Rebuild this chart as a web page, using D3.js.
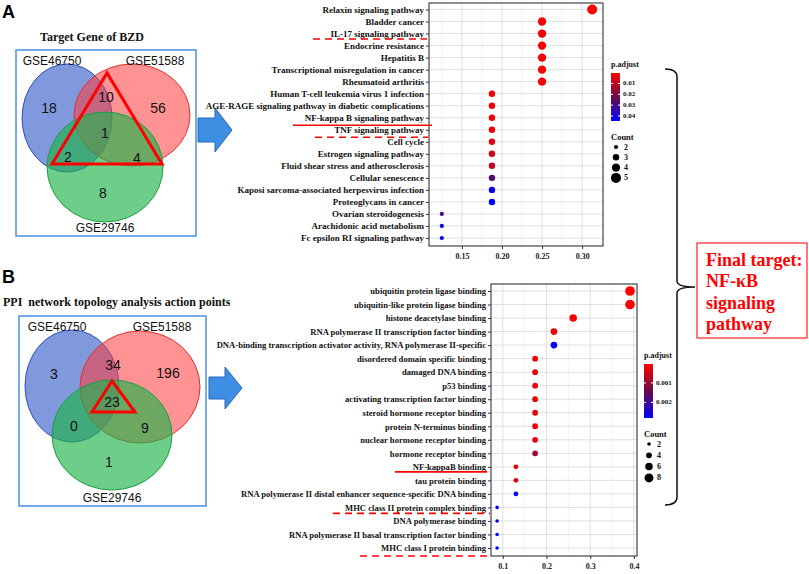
<!DOCTYPE html>
<html>
<head>
<meta charset="utf-8">
<script src="https://cdn.jsdelivr.net/npm/d3@7"></script>
<style>
  body { margin: 0; background: #fff; }
  svg { display: block; }
  .serif { font-family: "Liberation Serif", "Times New Roman", serif; font-weight: bold; white-space: pre; }
  .sans { font-family: "Liberation Sans", Arial, sans-serif; }
</style>
</head>
<body>
<script>
// ---- panel A : KEGG enrichment of BZD target genes ----
var pathA = ["Relaxin signaling pathway", "Bladder cancer", "IL-17 signaling pathway", "Endocrine resistance",
  "Hepatitis B", "Transcriptional misregulation in cancer", "Rheumatoid arthritis",
  "Human T-cell leukemia virus 1 infection", "AGE-RAGE signaling pathway in diabetic complications",
  "NF-kappa B signaling pathway", "TNF signaling pathway", "Cell cycle", "Estrogen signaling pathway",
  "Fluid shear stress and atherosclerosis", "Cellular senescence", "Kaposi sarcoma-associated herpesvirus infection",
  "Proteoglycans in cancer", "Ovarian steroidogenesis", "Arachidonic acid metabolism", "Fc epsilon RI signaling pathway"];
var ratioA = [0.3125, 0.25, 0.25, 0.25, 0.25, 0.25, 0.25, 0.1875, 0.1875, 0.1875, 0.1875, 0.1875, 0.1875,
  0.1875, 0.1875, 0.1875, 0.1875, 0.125, 0.125, 0.125];
var countA = [5, 4, 4, 4, 4, 4, 4, 3, 3, 3, 3, 3, 3, 3, 3, 3, 3, 2, 2, 2];
var padjA = [0.0003, 0.002, 0.002, 0.002, 0.002, 0.002, 0.002, 0.003, 0.003, 0.003, 0.004, 0.006, 0.009,
  0.010, 0.027, 0.042, 0.0447, 0.030, 0.043, 0.0447];
var xTicksA = [0.15, 0.20, 0.25, 0.30];
var padjTicksA = [0.01, 0.02, 0.03, 0.04];
var countTicksA = [2, 3, 4, 5];

// ---- panel B : GO molecular function of PPI action points ----
var termB = ["ubiquitin protein ligase binding", "ubiquitin-like protein ligase binding", "histone deacetylase binding",
  "RNA polymerase II transcription factor binding",
  "DNA-binding transcription activator activity, RNA polymerase II-specific",
  "disordered domain specific binding", "damaged DNA binding", "p53 binding", "activating transcription factor binding",
  "steroid hormone receptor binding", "protein N-terminus binding", "nuclear hormone receptor binding",
  "hormone receptor binding", "NF-kappaB binding", "tau protein binding",
  "RNA polymerase II distal enhancer sequence-specific DNA binding", "MHC class II protein complex binding",
  "DNA polymerase binding", "RNA polymerase II basal transcription factor binding", "MHC class I protein binding"];
var ratioB = [0.391, 0.391, 0.261, 0.217, 0.217, 0.174, 0.174, 0.174, 0.174, 0.174, 0.174, 0.174, 0.174,
  0.130, 0.130, 0.130, 0.087, 0.087, 0.087, 0.087];
var countB = [9, 9, 6, 5, 5, 4, 4, 4, 4, 4, 4, 4, 4, 3, 3, 3, 2, 2, 2, 2];
var padjB = [0.00003, 0.0001, 0.0001, 0.0002, 0.0027, 0.0002, 0.0002, 0.0002, 0.0002, 0.0002, 0.0002, 0.0002,
  0.0009, 0.0003, 0.0003, 0.0026, 0.0028, 0.0028, 0.0028, 0.0028];
var xTicksB = [0.1, 0.2, 0.3, 0.4];
var padjTicksB = [0.001, 0.002];
var countTicksB = [2, 4, 6, 8];

// ---- Venn counts ----
var vennNames = ["GSE46750", "GSE51588", "GSE29746"];
var vennA = [18, 10, 56, 1, 2, 4, 8];   // blue only, blue&red, red only, all, blue&green, red&green, green only
var vennB = [3, 34, 196, 23, 0, 9, 1];

var W = 809, H = 574;
var svg = d3.select("body").append("svg").attr("width", W).attr("height", H);
var defs = svg.append("defs");
var colStops = ["#ff0000", "#6a0c48", "#0000ff"];

// ---------- helpers ----------
function venn(g, box, ells, labelPos, numPos, tri, counts, title, titleX, titleY, titleAnchor) {
  g.append("rect").attr("x", box[0]).attr("y", box[1]).attr("width", box[2]).attr("height", box[3])
    .attr("fill", "none").attr("stroke", "#4a90e2").attr("stroke-width", 1.5);
  var fills = ["#2c54c4", "#ff3b3b", "#1fb34a"], strokes = ["#2f4fc0", "#e03030", "#18a040"], ops = [0.6, 0.55, 0.65];
  ells.forEach(function(e, i) {
    g.append("ellipse").attr("cx", e[0]).attr("cy", e[1]).attr("rx", e[2]).attr("ry", e[3])
      .attr("fill", fills[i]).attr("fill-opacity", ops[i]).attr("stroke", strokes[i]).attr("stroke-width", 1);
  });
  labelPos.forEach(function(p, i) {
    g.append("text").attr("class", "sans").attr("x", p[0]).attr("y", p[1]).attr("text-anchor", "middle")
      .attr("dominant-baseline", "central").attr("font-size", 12).attr("fill", "#111").text(vennNames[i]);
  });
  numPos.forEach(function(p, i) {
    g.append("text").attr("class", "sans").attr("x", p[0]).attr("y", p[1]).attr("text-anchor", "middle")
      .attr("dominant-baseline", "central").attr("font-size", 14).attr("fill", "#111").text(counts[i]);
  });
  g.append("path").attr("d", d3.line()(tri) + "Z").attr("fill", "none").attr("stroke", "#ff0000")
    .attr("stroke-width", 3).attr("stroke-linejoin", "miter");
  g.append("text").attr("class", "serif").attr("x", titleX).attr("y", titleY).attr("text-anchor", titleAnchor)
    .attr("dominant-baseline", "central").attr("font-size", 12).attr("fill", "#111").text(title);
}

function arrow(g, x0, x1, x2, yc, hr, hh) {
  var pts = [[x0, yc - hr], [x1, yc - hr], [x1, yc - hh], [x2, yc], [x1, yc + hh], [x1, yc + hr], [x0, yc + hr]];
  g.append("path").attr("d", d3.line()(pts) + "Z").attr("fill", "#3d8fe3").attr("stroke", "#2766b5").attr("stroke-width", 1);
}

function dotplot(cfg) {
  var g = svg.append("g");
  var x = d3.scaleLinear().domain(cfg.xdom).range([cfg.left, cfg.right]);
  var y = d3.scalePoint().domain(cfg.cats).range([cfg.y0, cfg.y1]);
  var r = d3.scaleSqrt().domain(cfg.cdom).range(cfg.rrange);
  var pmid = (cfg.pdom[0] + cfg.pdom[1]) / 2;
  var col = d3.scaleLinear().domain([cfg.pdom[0], pmid, cfg.pdom[1]]).range(colStops).interpolate(d3.interpolateRgb);

  g.append("rect").attr("x", cfg.left).attr("y", cfg.top).attr("width", cfg.right - cfg.left)
    .attr("height", cfg.bottom - cfg.top).attr("fill", "#fff");
  // minor + major grid
  cfg.minor.forEach(function(v) {
    g.append("line").attr("x1", x(v)).attr("x2", x(v)).attr("y1", cfg.top).attr("y2", cfg.bottom)
      .attr("stroke", "#ececec").attr("stroke-width", 0.6);
  });
  cfg.xticks.forEach(function(v) {
    g.append("line").attr("x1", x(v)).attr("x2", x(v)).attr("y1", cfg.top).attr("y2", cfg.bottom)
      .attr("stroke", "#dcdcdc").attr("stroke-width", 0.9);
  });
  cfg.cats.forEach(function(c) {
    g.append("line").attr("x1", cfg.left).attr("x2", cfg.right).attr("y1", y(c)).attr("y2", y(c))
      .attr("stroke", "#dcdcdc").attr("stroke-width", 0.9);
  });
  g.append("rect").attr("x", cfg.left).attr("y", cfg.top).attr("width", cfg.right - cfg.left)
    .attr("height", cfg.bottom - cfg.top).attr("fill", "none").attr("stroke", "#333").attr("stroke-width", 1.1);

  // axes
  var ax = g.append("g").attr("transform", "translate(0," + cfg.bottom + ")")
    .call(d3.axisBottom(x).tickValues(cfg.xticks).tickSize(3).tickFormat(d3.format(cfg.xfmt)));
  ax.select(".domain").remove();
  ax.selectAll("line").attr("stroke", "#333");
  ax.selectAll("text").attr("class", "serif").attr("font-size", 8).attr("fill", "#222").attr("dy", "0.9em");
  var ay = g.append("g").attr("transform", "translate(" + cfg.left + ",0)")
    .call(d3.axisLeft(y).tickSize(3).tickPadding(2));
  ay.select(".domain").remove();
  ay.selectAll("line").attr("stroke", "#333");
  ay.selectAll("text").attr("class", "serif").attr("font-size", cfg.fs).attr("fill", "#111");

  // dots
  g.selectAll("circle.dot").data(cfg.cats).enter().append("circle").attr("class", "dot")
    .attr("cx", function(d, i) { return x(cfg.ratio[i]); })
    .attr("cy", function(d) { return y(d); })
    .attr("r", function(d, i) { return r(cfg.count[i]); })
    .attr("fill", function(d, i) { return col(cfg.padj[i]); });

  // annotation underlines
  cfg.marks.forEach(function(m) {
    var yy = y(cfg.cats[m.i]) + m.dy;
    g.append("line").attr("x1", m.x1).attr("x2", m.x2).attr("y1", yy).attr("y2", yy)
      .attr("stroke", "#ff0000").attr("stroke-width", 1.6)
      .attr("stroke-dasharray", m.dash ? "7,5" : null);
  });

  // colour legend
  var L = cfg.leg;
  var gid = "grad" + cfg.id;
  var grad = defs.append("linearGradient").attr("id", gid)
    .attr("x1", 0).attr("x2", 0).attr("y1", 0).attr("y2", 1);
  colStops.forEach(function(c, i) {
    grad.append("stop").attr("offset", (i * 50) + "%").attr("stop-color", c);
  });
  g.append("text").attr("class", "serif").attr("x", L.x).attr("y", L.y0 - 6).attr("font-size", 8)
    .attr("fill", "#111").text("p.adjust");
  g.append("rect").attr("x", L.x).attr("y", L.y0).attr("width", 9).attr("height", L.y1 - L.y0)
    .attr("fill", "url(#" + gid + ")");
  var ly = d3.scaleLinear().domain(cfg.pdom).range([L.y0, L.y1]);
  cfg.pticks.forEach(function(v) {
    g.append("line").attr("x1", L.x).attr("x2", L.x + 2).attr("y1", ly(v)).attr("y2", ly(v)).attr("stroke", "#fff");
    g.append("line").attr("x1", L.x + 7).attr("x2", L.x + 9).attr("y1", ly(v)).attr("y2", ly(v)).attr("stroke", "#fff");
    g.append("text").attr("class", "serif").attr("x", L.x + 12).attr("y", ly(v)).attr("dominant-baseline", "central")
      .attr("font-size", 7).attr("fill", "#111").text(v);
  });
  // size legend
  g.append("text").attr("class", "serif").attr("x", L.x).attr("y", L.cy).attr("dominant-baseline", "central")
    .attr("font-size", 8.5).attr("fill", "#111").text("Count");
  cfg.cticks.forEach(function(v, i) {
    var yy = L.cy + 10 + i * L.cs;
    g.append("circle").attr("cx", L.x + 5).attr("cy", yy).attr("r", r(v)).attr("fill", "#000");
    g.append("text").attr("class", "serif").attr("x", L.x + 13).attr("y", yy).attr("dominant-baseline", "central")
      .attr("font-size", 8).attr("fill", "#111").text(v);
  });
}

// ---------- panel A ----------
svg.append("text").attr("class", "sans").attr("x", 2).attr("y", 18).attr("font-size", 18)
  .attr("font-weight", "bold").attr("fill", "#000").text("A");
venn(svg.append("g"), [16, 50, 180, 186],
  [[67, 118, 45, 54], [132, 115, 58, 51], [105, 167, 58, 55]],
  [[52, 61], [155, 61], [105, 228]],
  [[49, 108], [106, 97], [158, 108], [105, 133], [68, 157], [137, 158], [103, 193]],
  [[107, 73], [52, 164], [162, 164]], vennA, "Target Gene of BZD", 92, 37, "middle");
arrow(svg, 198, 215, 232, 130, 12, 22);

dotplot({
  id: "A", cats: pathA, ratio: ratioA, count: countA, padj: padjA,
  xdom: [0.109, 0.326], left: 429, right: 603, top: 3, bottom: 246, y0: 9.5, y1: 238,
  xticks: xTicksA, minor: [0.125, 0.175, 0.225, 0.275], xfmt: ".2f", fs: 9,
  cdom: [2, 5], rrange: [2.1, 5], pdom: [0.0003, 0.0447], pticks: padjTicksA, cticks: countTicksA,
  leg: { x: 611, y0: 73, y1: 121, cy: 137, cs: 10.3 },
  marks: [{ i: 2, dy: 5.5, x1: 313, x2: 427, dash: true }, { i: 9, dy: 7.5, x1: 293, x2: 432, dash: false },
    { i: 10, dy: 7.5, x1: 315, x2: 428, dash: true }]
});

// ---------- panel B ----------
svg.append("text").attr("class", "sans").attr("x", 2).attr("y", 283).attr("font-size", 18)
  .attr("font-weight", "bold").attr("fill", "#000").text("B");
venn(svg.append("g"), [19, 316, 187, 190],
  [[72, 386, 47, 56], [140, 387, 60, 56], [112, 435, 60, 55]],
  [[57, 327], [162, 327], [112, 498]],
  [[54, 374], [113, 365], [168, 373], [112, 402], [74, 426], [145, 428], [109, 462]],
  [[112, 381], [92, 412], [135, 412]], vennB, "PPI  network topology analysis action points", 3, 302, "start");
arrow(svg, 209, 225, 242, 388, 11, 21);

dotplot({
  id: "B", cats: termB, ratio: ratioB, count: countB, padj: padjB,
  xdom: [0.073, 0.407], left: 491, right: 637, top: 284, bottom: 556, y0: 291, y1: 548,
  xticks: xTicksB, minor: [0.15, 0.25, 0.35], xfmt: ".1f", fs: 8.6,
  cdom: [2, 9], rrange: [1.8, 4.8], pdom: [0.00003, 0.0028], pticks: padjTicksB, cticks: countTicksB,
  leg: { x: 644, y0: 364, y1: 418, cy: 434, cs: 11.3 },
  marks: [{ i: 13, dy: 5, x1: 395, x2: 487, dash: false }, { i: 16, dy: 6, x1: 333, x2: 490, dash: true },
    { i: 19, dy: 8, x1: 360, x2: 490, dash: true }]
});

// ---------- bracket + conclusion box ----------
var bx0 = 665, bx1 = 677, btip = 695, by0 = 69, by1 = 505, bym = 287;
svg.append("path")
  .attr("d", "M" + bx0 + "," + by0 + " Q" + bx1 + "," + by0 + " " + bx1 + "," + (by0 + 8) +
    " L" + bx1 + "," + (bym - 6) + " Q" + bx1 + "," + bym + " " + btip + "," + bym +
    " Q" + bx1 + "," + bym + " " + bx1 + "," + (bym + 6) +
    " L" + bx1 + "," + (by1 - 8) + " Q" + bx1 + "," + by1 + " " + bx0 + "," + by1)
  .attr("fill", "none").attr("stroke", "#111").attr("stroke-width", 1.5);

svg.append("rect").attr("x", 697).attr("y", 243).attr("width", 110).attr("height", 95)
  .attr("fill", "#fff").attr("stroke", "#ff2020").attr("stroke-width", 1.2);
["Final target:", "NF-\u03BAB", "signaling", "pathway"].forEach(function(t, i) {
  svg.append("text").attr("class", "serif").attr("x", 706).attr("y", 260 + i * 21.3)
    .attr("dominant-baseline", "central").attr("font-size", 18).attr("fill", "#ff0000").text(t);
});
</script>
</body>
</html>
